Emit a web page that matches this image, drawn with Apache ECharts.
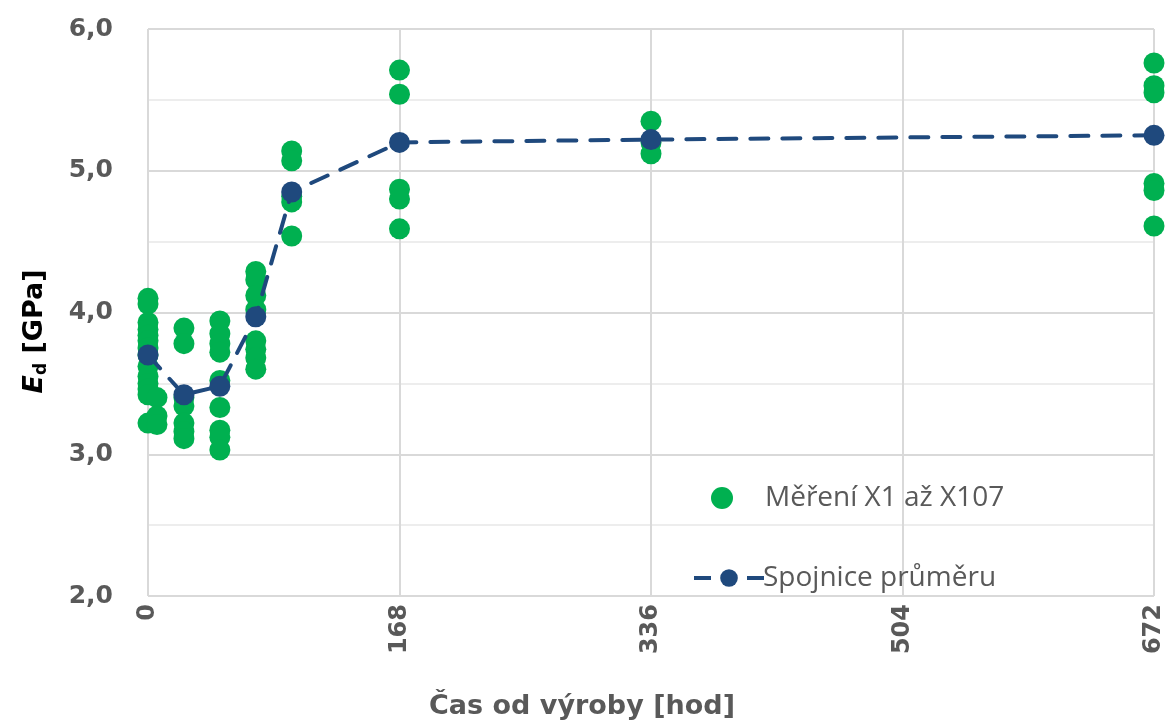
<!DOCTYPE html>
<html>
<head>
<meta charset="utf-8">
<script src="https://cdn.jsdelivr.net/npm/echarts@6/dist/echarts.min.js"></script>
<style>html,body{margin:0;padding:0;background:#fff}#c{width:1168px;height:725px}</style>
</head>
<body>
<div id="c"></div>
<script>
// Measurement points (time [h], Ed [GPa])
const measTimes = [
  0,0,0,0,0,0,0,0,0,0,0,0,0,0,6,6,6,
  24,24,24,24,24,24,24,
  48,48,48,48,48,48,48,48,48,
  72,72,72,72,72,72,72,72,
  96,96,96,96,96,
  168,168,168,168,168,
  336,336,336,
  672,672,672,672,672,672
];
const measValues = [
  4.10,4.06,3.93,3.88,3.84,3.80,3.75,3.70,3.62,3.55,3.50,3.46,3.42,3.22,3.40,3.27,3.21,
  3.89,3.78,3.40,3.34,3.22,3.16,3.11,
  3.94,3.85,3.78,3.72,3.52,3.33,3.17,3.12,3.03,
  4.29,4.23,4.12,4.02,3.80,3.74,3.68,3.60,
  5.14,5.07,4.82,4.78,4.54,
  5.71,5.54,4.87,4.80,4.59,
  5.35,5.20,5.12,
  5.76,5.60,5.55,4.91,4.86,4.61
];
// Mean line
const meanTimes = [0, 24, 48, 72, 96, 168, 336, 672];
const meanValues = [3.70, 3.42, 3.48, 3.97, 4.85, 5.20, 5.22, 5.25];
const xTicks = [0, 168, 336, 504, 672];

const chart = echarts.init(document.getElementById('c'));
const bold = '"DejaVu Sans", sans-serif';
const font = '"Open Sans", "DejaVu Sans", sans-serif';
chart.setOption({
  animation: false,
  backgroundColor: '#fff',
  grid: { left: 148, right: 14, top: 29, bottom: 127, containLabel: false },
  legend: [
    {
      data: ['Měření X1 až X107'],
      left: 706, top: 478, itemWidth: 22, itemHeight: 22, itemGap: 0,
      icon: 'circle',
      textStyle: { fontFamily: font, fontSize: 28, lineHeight: 30, color: '#595959', padding: [0, 0, 0, 27] }
    },
    {
      data: ['Spojnice průměru'],
      left: 687, top: 558, itemWidth: 70, itemHeight: 22,
      lineStyle: { type: [17, 36], width: 4, cap: 'butt' },
      textStyle: { fontFamily: font, fontSize: 28, lineHeight: 30, color: '#595959', padding: [0, 0, 0, -6] }
    }
  ],
  xAxis: {
    type: 'value', min: 0, max: 672, interval: 168,
    name: 'Čas od výroby [hod]', nameLocation: 'middle', nameGap: 97,
    nameTextStyle: { fontFamily: bold, fontSize: 27, fontWeight: 'bold', color: '#595959', padding: [0, 138, 0, 0] },
    axisLine: { show: false }, axisTick: { show: false },
    axisLabel: { rotate: 90, fontFamily: bold, fontSize: 24, fontWeight: 'bold', color: '#595959', margin: 8,
      formatter: v => xTicks.includes(v) ? String(v) : '' },
    splitLine: { show: true, lineStyle: { color: '#d9d9d9', width: 2 } }
  },
  yAxis: {
    type: 'value', min: 2, max: 6, interval: 1,
    name: '{e|E}{d|d}{t| [GPa]}', nameLocation: 'middle', nameGap: 98, nameRotate: 90,
    nameTextStyle: {
      fontFamily: bold, color: '#000', padding: [0, 38, 0, 0],
      rich: {
        e: { fontFamily: bold, fontSize: 27, fontWeight: 'bold', fontStyle: 'italic', color: '#000' },
        d: { fontFamily: bold, fontSize: 17, fontWeight: 'bold', color: '#000', verticalAlign: 'bottom', padding: [14, 0, 0, 0] },
        t: { fontFamily: bold, fontSize: 27, fontWeight: 'bold', color: '#000' }
      }
    },
    axisLine: { show: false }, axisTick: { show: false },
    axisLabel: { fontFamily: bold, fontSize: 25, fontWeight: 'bold', color: '#595959', margin: 35,
      formatter: v => v.toFixed(1).replace('.', ',') },
    splitLine: { show: true, lineStyle: { color: '#d9d9d9', width: 2 } },
    minorTick: { show: false, splitNumber: 2 },
    minorSplitLine: { show: true, lineStyle: { color: '#ededed', width: 2 } }
  },
  series: [
    {
      name: 'Měření X1 až X107', type: 'scatter', symbolSize: 21,
      itemStyle: { color: '#00b050', opacity: 1 },
      data: measTimes.map((t, i) => [t, measValues[i]]),
      z: 2
    },
    {
      name: 'Spojnice průměru', type: 'line', symbol: 'circle', symbolSize: 21,
      itemStyle: { color: '#1f497d' },
      lineStyle: { color: '#1f497d', width: 4, type: [18, 14], cap: 'round' },
      data: meanTimes.map((t, i) => [t, meanValues[i]]),
      z: 3
    }
  ]
});
</script>
</body>
</html>
